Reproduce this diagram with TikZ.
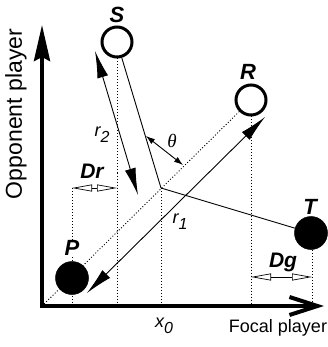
\documentclass[tikz,border=0pt]{standalone}
\usepackage{fontspec}
\setmainfont{Liberation Sans}
\newfontfamily\serifit{Liberation Serif}
\usetikzlibrary{arrows.meta}
\begin{document}
\begin{tikzpicture}[x=1pt,y=-1pt,
  opencirc/.style={circle,draw,line width=3pt,minimum size=30pt,inner sep=0pt,fill=white},
  fillcirc/.style={circle,draw,fill=black,line width=0.5pt,minimum size=33pt,inner sep=0pt},
  ptlabel/.style={font=\fontsize{22}{22}\selectfont\bfseries\itshape,inner sep=0.5pt},
  dimlabel/.style={font=\fontsize{21}{21}\selectfont\bfseries\itshape,inner sep=0pt},
  dots/.style={dash pattern=on 1pt off 2pt,line width=0.9pt},
  thinline/.style={line width=0.9pt},
  rarrow/.style={line width=0.9pt,{Latex[length=27pt,width=11pt]}-{Latex[length=27pt,width=11pt]}},
  tharrow/.style={line width=0.9pt,{Latex[length=9pt,width=6pt]}-{Latex[length=9pt,width=6pt]}},
  dimarrow/.style={line width=0.7pt,{Triangle[open,length=20pt,width=7pt]}-{Triangle[open,length=20pt,width=7pt]}},
  axis/.style={line width=4pt,{Stealth[length=36pt,width=16pt,inset=4pt]}-{Straight Barb[length=28pt,width=18pt]}},
  sublabel/.style={inner sep=0pt}
]
\useasboundingbox (0,0) rectangle (327,347);
% key points
\coordinate (O) at (42,306);
\coordinate (C) at (161,188);
\coordinate (Ytop) at (42,25);
\coordinate (Xend) at (324,306);
% circles
\node[opencirc] (S) at (117,42) {};
\node[opencirc] (R) at (251,100) {};
% dotted guides
\coordinate (DrL) at (72,188);
\coordinate (DrR) at (117,188);
\coordinate (DgL) at (251,277);
\coordinate (DgR) at (312,277);
\draw[dots] (O) -- (R);
\draw[dots] (S.south) -- (S.south |- O);
\draw[dots] (R.south) -- (R.south |- O);
\draw[dots] (C) -- (C |- O);
\draw[dots] (DrL) -- (DrL |- O);
\draw[dots] (312,250) coordinate (Tb) -- (Tb |- O);
% filled circles
\node[fillcirc] (P) at (72,278) {};
\node[fillcirc] (T) at (311,233) {};
% solid lines
\draw[thinline] (S) -- (C);
\draw[thinline] (C) -- (T);
% axes
\draw[axis] (Ytop) -- (O) -- (Xend);
% r arrows
\coordinate (r2a) at (95,51);
\coordinate (r2b) at (138,195);
\draw[rarrow] (r2a) -- (r2b);
\coordinate (r1a) at (87,293);
\coordinate (r1b) at (265,117);
\draw[rarrow] (r1a) -- (r1b);
% theta arrow
\coordinate (tha) at (146,136);
\coordinate (thb) at (183,165);
\draw[tharrow] (tha) -- (thb);
% dimension arrows
\draw[dimarrow] (DrL) -- (DrR);
\draw[dimarrow] (DgL) -- (DgR);
% labels
\node[ptlabel] (Slab) at (117,15) {S};
\node[ptlabel] (Rlab) at (248,72) {R};
\node[ptlabel,fill=white] (Plab) at (72,248) {P};
\node[ptlabel] (Tlab) at (310,207) {T};
\node[dimlabel] (Drlab) at (92,171) {Dr};
\node[dimlabel] (Dglab) at (283,262) {Dg};
\node[sublabel] (r2lab) at (102,135) {\fontsize{18}{18}\selectfont\itshape r\raisebox{-6pt}{\fontsize{16}{16}\selectfont 2}};
\node[sublabel] (r1lab) at (180,222) {\fontsize{18}{18}\selectfont\itshape r\raisebox{-6pt}{\fontsize{16}{16}\selectfont 1}};
\node[sublabel] (thlab) at (172,141) {\fontsize{19}{19}\selectfont\serifit\itshape θ};
\node[sublabel] (x0lab) at (164,326) {\fontsize{18}{18}\selectfont\itshape x\raisebox{-6pt}{\fontsize{16}{16}\selectfont 0}};
\node[sublabel] (focal) at (278,328) {\fontsize{18}{18}\selectfont Focal player};
\node[sublabel,rotate=90] (opp) at (16,114) {\fontsize{23}{23}\selectfont Opponent player};
\end{tikzpicture}
\end{document}
